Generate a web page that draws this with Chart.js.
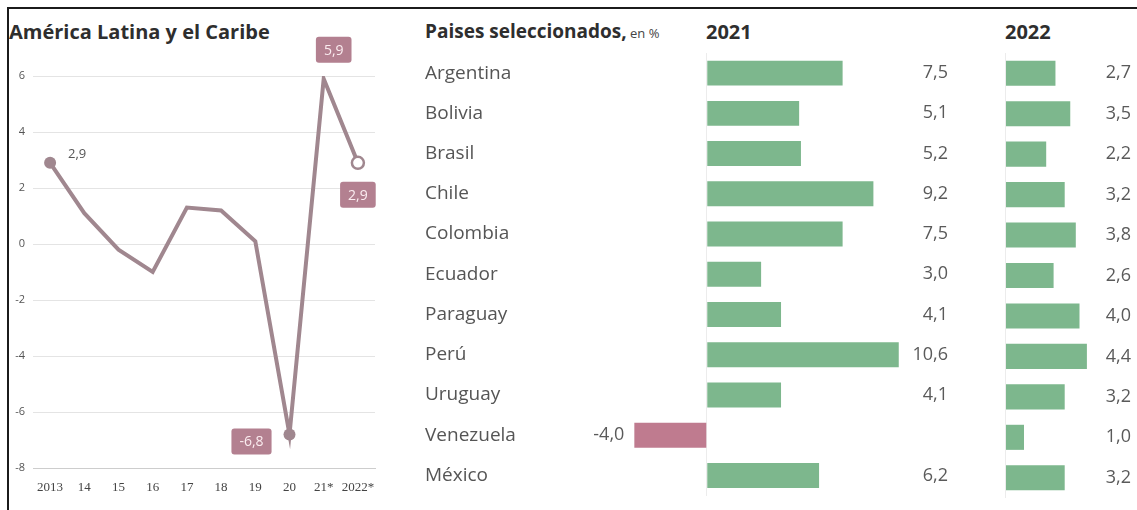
<!DOCTYPE html>
<html lang="es">
<head>
<meta charset="utf-8">
<title>Crecimiento del PIB</title>
<script src="https://cdn.jsdelivr.net/npm/chart.js@4.4.1/dist/chart.umd.min.js"></script>
<style>
  html, body { margin: 0; padding: 0; background: #fff; }
  body { width: 1137px; height: 510px; position: relative; overflow: hidden; font-family: 'Open Sans', sans-serif; }
  .frame { position: absolute; left: 7px; top: 7px; width: 1130px; height: 503px;
           border-left: 2px solid #1b1b1b; border-top: 2px solid #1b1b1b; z-index: 5; pointer-events: none; }
  canvas { position: absolute; top: 0; }
  .head { position: absolute; top: 18px; font-weight: 700; color: #2e2e2e; white-space: nowrap; font-size: 20px; }
  .head small { font-weight: 400; font-size: 13px; color: #444; }
</style>
</head>
<body>
<div class="frame"></div>

<div class="head" style="left:9px;">América Latina y el Caribe</div>
<div class="head" style="left:425px; font-size:19px;">Paises seleccionados,<small> en %</small></div>
<div class="head" style="left:706px;">2021</div>
<div class="head" style="left:1005px;">2022</div>

<canvas id="lineChart" width="380" height="510" style="left:10px;"></canvas>
<canvas id="bars2021" width="545" height="510" style="left:415px;"></canvas>
<canvas id="bars2022" width="157" height="510" style="left:980px;"></canvas>

<script>
// Regional growth, 2013-2022 (21 and 22 are projections)
const years = ['2013', '14', '15', '16', '17', '18', '19', '20', '21*', '2022*'];
const growthRegion = [2.9, 1.1, -0.2, -1.0, 1.3, 1.2, 0.1, -6.8, 5.9, 2.9];

// Selected countries
const countries = ['Argentina', 'Bolivia', 'Brasil', 'Chile', 'Colombia', 'Ecuador',
                   'Paraguay', 'Perú', 'Uruguay', 'Venezuela', 'México'];
const growth2021 = [7.5, 5.1, 5.2, 9.2, 7.5, 3.0, 4.1, 10.6, 4.1, -4.0, 6.2];
const growth2022 = [2.7, 3.5, 2.2, 3.2, 3.8, 2.6, 4.0, 4.4, 3.2, 1.0, 3.2];

const LINE = '#a0878f';
const BOX = '#b38090';
const GREEN = '#7db78d';
const RED = '#bf7b8f';
const LABEL_FONT = "'Open Sans', sans-serif";

const fmt = v => v.toFixed(1).replace('.', ',');

// Points that get a marker on the regional line
const markedPoints = [0, 7, 9];

// Annotations on the line: offset from the point, boxed or plain
const lineNotes = [
    { index: 0, dx: 27, dy: -9, boxed: false },
    { index: 7, dx: -38, dy: 7, boxed: true },
    { index: 8, dx: 10, dy: -29, boxed: true },
    { index: 9, dx: 0, dy: 32, boxed: true }
];

const lineLabels = {
    id: 'lineLabels',
    afterDatasetsDraw(chart) {
        const ctx = chart.ctx;
        const meta = chart.getDatasetMeta(0);
        const values = chart.data.datasets[0].data;
        ctx.save();
        ctx.textAlign = 'center';
        ctx.textBaseline = 'middle';
        lineNotes.forEach(note => {
            const pt = meta.data[note.index];
            const text = fmt(values[note.index]);
            const x = pt.x + note.dx;
            const y = pt.y + note.dy;
            if (note.boxed) {
                ctx.font = '14px ' + LABEL_FONT;
                const w = ctx.measureText(text).width + 16;
                const h = 26;
                ctx.fillStyle = BOX;
                ctx.beginPath();
                ctx.roundRect(x - w / 2, y - h / 2, w, h, 3);
                ctx.fill();
                ctx.fillStyle = '#fbecf0';
                ctx.fillText(text, x, y + 1);
            } else {
                ctx.font = '13px ' + LABEL_FONT;
                ctx.fillStyle = '#555';
                ctx.fillText(text, x, y);
            }
        });
        ctx.restore();
    }
};

// Value column to the right of each bar panel, negatives sit left of the bar
const barValues = {
    id: 'barValues',
    afterDatasetsDraw(chart, args, opts) {
        const ctx = chart.ctx;
        const meta = chart.getDatasetMeta(0);
        const values = chart.data.datasets[0].data;
        ctx.save();
        ctx.font = '18px ' + LABEL_FONT;
        ctx.fillStyle = '#5a5a5a';
        ctx.textAlign = 'right';
        ctx.textBaseline = 'middle';
        meta.data.forEach((bar, i) => {
            const v = values[i];
            if (v < 0) {
                ctx.fillText(fmt(v), bar.x - 10, bar.y);
            } else {
                ctx.fillText(fmt(v), chart.chartArea.right + opts.columnX, bar.y);
            }
        });
        ctx.restore();
    }
};

new Chart(document.getElementById('lineChart'), {
    type: 'line',
    data: {
        labels: years,
        datasets: [{
            data: growthRegion,
            borderColor: LINE,
            borderWidth: 4,
            tension: 0,
            pointRadius: c => markedPoints.includes(c.dataIndex) ? 6 : 0,
            pointBackgroundColor: c => c.dataIndex === years.length - 1 ? '#fff' : LINE,
            pointBorderColor: LINE,
            pointBorderWidth: c => c.dataIndex === years.length - 1 ? 2.5 : 0
        }]
    },
    options: {
        responsive: false,
        animation: false,
        layout: { padding: { top: 76, right: 15, bottom: 12, left: 0 } },
        plugins: { legend: { display: false }, tooltip: { enabled: false } },
        scales: {
            x: {
                offset: true,
                grid: { display: false },
                border: { display: true, color: '#cdcdcd', dash: [2, 3] },
                ticks: {
                    color: '#444',
                    font: { family: 'Liberation Serif', size: 13 },
                    padding: 4,
                    maxRotation: 0,
                    autoSkip: false
                },
                afterFit: s => { s.height = 30; }
            },
            y: {
                min: -8,
                max: 6,
                ticks: { stepSize: 2, color: '#555', font: { family: LABEL_FONT, size: 11 }, padding: 8 },
                grid: { color: c => c.tick.value === -8 ? 'rgba(0,0,0,0)' : '#e4e4e4', drawTicks: false },
                border: { display: false },
                afterFit: s => { s.width = 23; }
            }
        }
    },
    plugins: [lineLabels]
});

// Shared setup for the two horizontal bar panels; nameWidth 0 hides the country names
function barOptions(min, max, padding, columnX, nameWidth) {
    return {
        indexAxis: 'y',
        responsive: false,
        animation: false,
        layout: { padding: padding },
        plugins: {
            legend: { display: false },
            tooltip: { enabled: false },
            barValues: { columnX: columnX }
        },
        scales: {
            x: {
                min: min,
                max: max,
                ticks: { display: false, stepSize: 1 },
                grid: { color: c => c.tick.value === 0 ? '#ececec' : 'rgba(0,0,0,0)', drawTicks: false },
                border: { display: false }
            },
            y: {
                grid: { display: false },
                border: { display: false },
                ticks: {
                    display: nameWidth > 0,
                    color: '#555',
                    font: { family: LABEL_FONT, size: 19 },
                    crossAlign: 'far'
                },
                afterFit: s => { s.width = nameWidth; }
            }
        }
    };
}

new Chart(document.getElementById('bars2021'), {
    type: 'bar',
    data: {
        labels: countries,
        datasets: [{
            data: growth2021,
            backgroundColor: c => c.raw < 0 ? RED : GREEN,
            barPercentage: 0.62,
            categoryPercentage: 1
        }]
    },
    options: barOptions(-7, 11, { top: 53, bottom: 12, left: 10, right: 54 }, 42, 155),
    plugins: [barValues]
});

new Chart(document.getElementById('bars2022'), {
    type: 'bar',
    data: {
        labels: countries,
        datasets: [{
            data: growth2022,
            backgroundColor: c => c.raw < 0 ? RED : GREEN,
            barPercentage: 0.62,
            categoryPercentage: 1
        }]
    },
    options: barOptions(-1, 5, { top: 53, bottom: 12, left: 7, right: 39 }, 33, 0),
    plugins: [barValues]
});
</script>
</body>
</html>
